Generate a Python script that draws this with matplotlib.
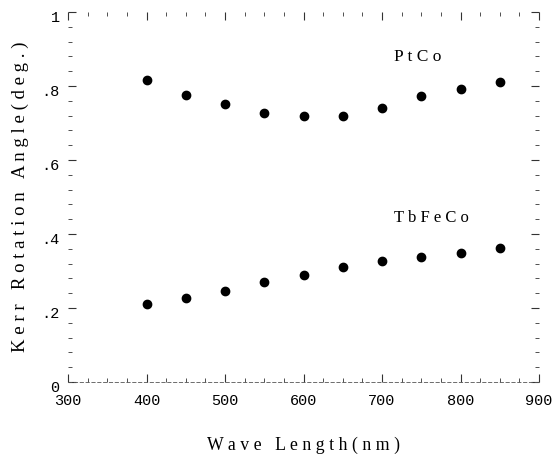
import matplotlib.pyplot as plt
import numpy as np
from matplotlib.ticker import MultipleLocator, FixedFormatter, FixedLocator
from matplotlib.transforms import ScaledTranslation

# longitud de onda (nm)
wl = [400, 450, 500, 550, 600, 650, 700, 750, 800, 850]

# angulo de rotacion Kerr (grados)
ptco = [0.816, 0.775, 0.750, 0.726, 0.720, 0.720, 0.741, 0.772, 0.793, 0.812]
tbfeco = [0.210, 0.226, 0.247, 0.271, 0.290, 0.311, 0.326, 0.338, 0.349, 0.361]

yticks = [0, 0.2, 0.4, 0.6, 0.8, 1.0]
ylabels = ["0", ".2", ".4", ".6", ".8", "1"]
xticks = [300, 400, 500, 600, 700, 800, 900]


def spaced(s):
    return " ".join(s)


fig = plt.figure(figsize=(5.58, 4.54), dpi=100)
ax = fig.add_axes([0.122, 0.1586, 0.844, 0.815])

ax.plot(wl, ptco, "o", color="black", ms=6)
ax.plot(wl, tbfeco, "o", color="black", ms=6)

ax.text(745, 0.878, spaced("PtCo"), family="Liberation Serif", fontsize=12.5,
        ha="center", va="center")
ax.text(763, 0.443, spaced("TbFeCo"), family="Liberation Serif", fontsize=12,
        ha="center", va="center")

ax.set_xlim(300, 900)
ax.set_ylim(0, 1)

ax.xaxis.set_major_locator(FixedLocator(xticks))
ax.xaxis.set_minor_locator(MultipleLocator(25))
ax.yaxis.set_major_locator(FixedLocator(yticks))
ax.yaxis.set_major_formatter(FixedFormatter(ylabels))
ax.yaxis.set_minor_locator(MultipleLocator(0.04))

ax.tick_params(which="both", direction="in", top=True, right=True,
               labelsize=11, color="#333333")
ax.tick_params(which="major", length=6, width=0.8)
ax.tick_params(which="minor", length=3, width=0.6)
ax.tick_params(axis="x", pad=9)
ax.tick_params(axis="y", pad=6)

# etiquetas del eje y un poco mas abajo
shift = ScaledTranslation(0, -3 / 72, fig.dpi_scale_trans)
for lab in ax.get_yticklabels():
    lab.set_family("Liberation Mono")
    lab.set_transform(lab.get_transform() + shift)
for lab in ax.get_xticklabels():
    lab.set_family("Liberation Mono")

# ejes casi invisibles, solo quedan las marcas
for side in ["left", "top", "right"]:
    ax.spines[side].set_visible(False)
ax.spines["bottom"].set_linewidth(0.6)
ax.spines["bottom"].set_linestyle((0, (4, 3)))
ax.spines["bottom"].set_color("#555555")

ax.set_xlabel(spaced("Wave") + "   " + spaced("Length(nm)"),
              family="Liberation Serif", fontsize=12.8, labelpad=20)
ax.set_ylabel(spaced("Kerr") + "   " + spaced("Rotation") + "   " + spaced("Angle(deg.)"),
              family="Liberation Serif", fontsize=13.5, labelpad=9)

fig.savefig("out.png", dpi=100)
